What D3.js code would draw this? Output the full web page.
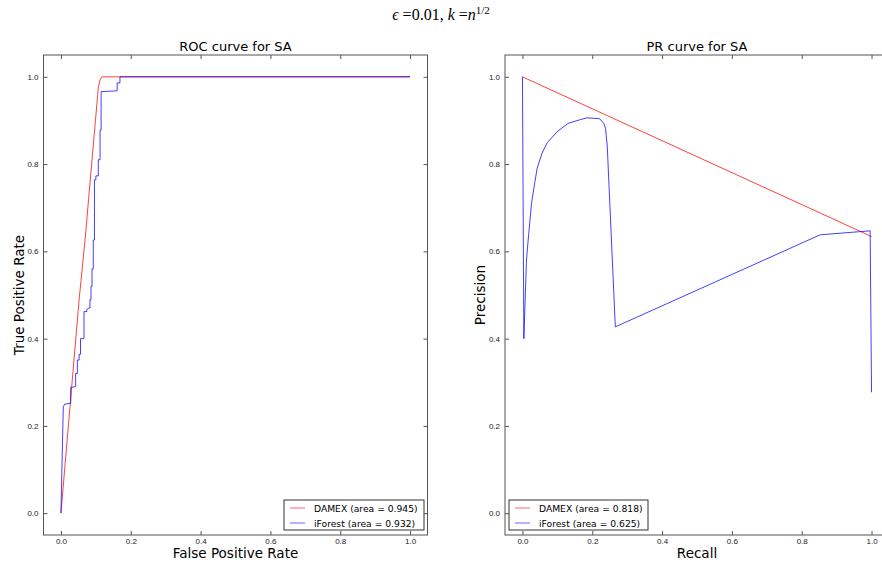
<!DOCTYPE html>
<html>
<head>
<meta charset="utf-8">
<script src="https://cdn.jsdelivr.net/npm/d3@7"></script>
<style>
  html, body { margin: 0; padding: 0; background: #fff; }
  svg { display: block; font-family: "DejaVu Sans", sans-serif; }
</style>
</head>
<body>
<svg id="chart" width="882" height="563"></svg>
<script>
// ---------- data ----------
const xTicks = [0.0, 0.2, 0.4, 0.6, 0.8, 1.0];
const yTicks = [0.0, 0.2, 0.4, 0.6, 0.8, 1.0];

const rocDamexFpr = [0.0, 0.052, 0.069, 0.107, 0.112, 0.117, 1.0];
const rocDamexTpr = [0.0, 0.489, 0.626, 0.975, 0.993, 1.0, 1.0];

const rocIforestFpr = [0.0, 0.0067, 0.011, 0.028, 0.028, 0.042, 0.042, 0.047, 0.047, 0.052, 0.052, 0.056, 0.056, 0.066, 0.066, 0.074, 0.074, 0.080, 0.083, 0.083, 0.086, 0.086, 0.089, 0.089, 0.0926, 0.0926, 0.096, 0.096, 0.100, 0.100, 0.107, 0.107, 0.112, 0.112, 0.115, 0.115, 0.161, 0.161, 0.169, 0.169, 1.0];
const rocIforestTpr = [0.0, 0.244, 0.250, 0.252, 0.288, 0.290, 0.320, 0.320, 0.351, 0.351, 0.364, 0.364, 0.400, 0.400, 0.462, 0.462, 0.467, 0.470, 0.470, 0.489, 0.489, 0.520, 0.520, 0.560, 0.560, 0.626, 0.626, 0.764, 0.764, 0.773, 0.773, 0.810, 0.810, 0.878, 0.878, 0.966, 0.968, 0.986, 0.986, 1.0, 1.0];

const prDamexRecall = [0.0, 1.0];
const prDamexPrecision = [1.0, 0.634];

const prIforestRecall = [0.0, 0.004, 0.0115, 0.018, 0.026, 0.035, 0.042, 0.056, 0.071, 0.099, 0.130, 0.166, 0.185, 0.221, 0.233, 0.238, 0.243, 0.266, 0.853, 0.996, 1.0];
const prIforestPrecision = [1.0, 0.400, 0.580, 0.641, 0.710, 0.756, 0.790, 0.825, 0.849, 0.874, 0.893, 0.902, 0.906, 0.904, 0.893, 0.882, 0.840, 0.427, 0.638, 0.647, 0.277];

const rocLegend = ["DAMEX (area = 0.945)", "iForest (area = 0.932)"];
const prLegend = ["DAMEX (area = 0.818)", "iForest (area = 0.625)"];
const seriesColors = ["#ff0000", "#0000ff"];

// ---------- drawing ----------
const svg = d3.select("#chart");

svg.append("text")
  .attr("x", 441).attr("y", 20)
  .attr("text-anchor", "middle")
  .style("font-family", "'Liberation Serif', 'DejaVu Serif', serif")
  .style("font-size", "16px")
  .html('<tspan font-style="italic">ϵ</tspan> =0.01, <tspan font-style="italic">k</tspan> =<tspan font-style="italic">n</tspan><tspan dy="-6" font-size="11px">1/2</tspan>');

function panel(cfg) {
  const x = d3.scaleLinear().domain([-0.05, 1.05]).range([cfg.left, cfg.right]);
  const y = d3.scaleLinear().domain([-0.05, 1.05]).range([535, 55]);
  const g = svg.append("g");
  const clipId = "clip" + cfg.id;
  svg.append("clipPath").attr("id", clipId)
    .append("rect").attr("x", cfg.left).attr("y", 55)
    .attr("width", cfg.right - cfg.left).attr("height", 480);

  const line = d3.line().x(d => x(d[0])).y(d => y(d[1]));
  cfg.series.forEach((s, i) => {
    const pts = s.xs.map((v, j) => [v, s.ys[j]]);
    g.append("path").datum(pts)
      .attr("clip-path", `url(#${clipId})`)
      .attr("d", line)
      .attr("fill", "none")
      .attr("stroke", seriesColors[i])
      .attr("stroke-width", 1)
      .attr("stroke-opacity", 0.75);
  });

  // axes with inward ticks
  const tk = 4;
  const axB = d3.axisBottom(x).tickValues(xTicks).tickFormat(d3.format(".1f")).tickSizeInner(-tk).tickSizeOuter(0).tickPadding(3);
  const axT = d3.axisTop(x).tickValues(xTicks).tickFormat("").tickSizeInner(-tk).tickSizeOuter(0);
  const axL = d3.axisLeft(y).tickValues(yTicks).tickFormat(d3.format(".1f")).tickSizeInner(-tk).tickSizeOuter(0).tickPadding(5);
  const axR = d3.axisRight(y).tickValues(yTicks).tickFormat("").tickSizeInner(-tk).tickSizeOuter(0);
  const axes = [
    [axB, `translate(0,535)`],
    [axT, `translate(0,55)`],
    [axL, `translate(${cfg.left},0)`],
    [axR, `translate(${cfg.right},0)`]
  ];
  axes.forEach(([ax, tr]) => {
    const a = g.append("g").attr("transform", tr).call(ax);
    a.select(".domain").remove();
    a.selectAll("line").attr("stroke", "#555");
    a.selectAll("text").style("font-size", "8px").attr("fill", "#222");
  });
  g.append("rect").attr("x", cfg.left).attr("y", 55)
    .attr("width", cfg.right - cfg.left).attr("height", 480)
    .attr("fill", "none").attr("stroke", "#555").attr("stroke-width", 1);

  const cx = (cfg.left + cfg.right) / 2;
  g.append("text").attr("x", cx).attr("y", 51).attr("text-anchor", "middle")
    .style("font-size", "13px").text(cfg.title);
  g.append("text").attr("x", cx).attr("y", 558).attr("text-anchor", "middle")
    .style("font-size", "13.5px").text(cfg.xlabel);
  g.append("text").attr("transform", `translate(${cfg.left - 20},295) rotate(-90)`)
    .attr("text-anchor", "middle").style("font-size", "13.5px").text(cfg.ylabel);

  // legend
  const lg = g.append("g").attr("transform", `translate(${cfg.legX},500)`);
  lg.append("rect").attr("x", 0).attr("y", 0).attr("width", cfg.legW).attr("height", 30)
    .attr("fill", "#fff").attr("stroke", "#333").attr("stroke-width", 1);
  cfg.legend.forEach((t, i) => {
    const yy = 8 + i * 15;
    lg.append("line").attr("x1", 6).attr("x2", 21).attr("y1", yy).attr("y2", yy)
      .attr("stroke", seriesColors[i]).attr("stroke-opacity", 0.6).attr("stroke-width", 1);
    lg.append("text").attr("x", 30).attr("y", yy + 3.5).style("font-size", "9.2px").text(t);
  });
}

panel({
  id: "roc", left: 43.5, right: 427.5,
  title: "ROC curve for SA", xlabel: "False Positive Rate", ylabel: "True Positive Rate",
  series: [{xs: rocDamexFpr, ys: rocDamexTpr}, {xs: rocIforestFpr, ys: rocIforestTpr}],
  legend: rocLegend, legX: 284, legW: 140
});
panel({
  id: "pr", left: 505, right: 889,
  title: "PR curve for SA", xlabel: "Recall", ylabel: "Precision",
  series: [{xs: prDamexRecall, ys: prDamexPrecision}, {xs: prIforestRecall, ys: prIforestPrecision}],
  legend: prLegend, legX: 509, legW: 139
});
</script>
</body>
</html>
